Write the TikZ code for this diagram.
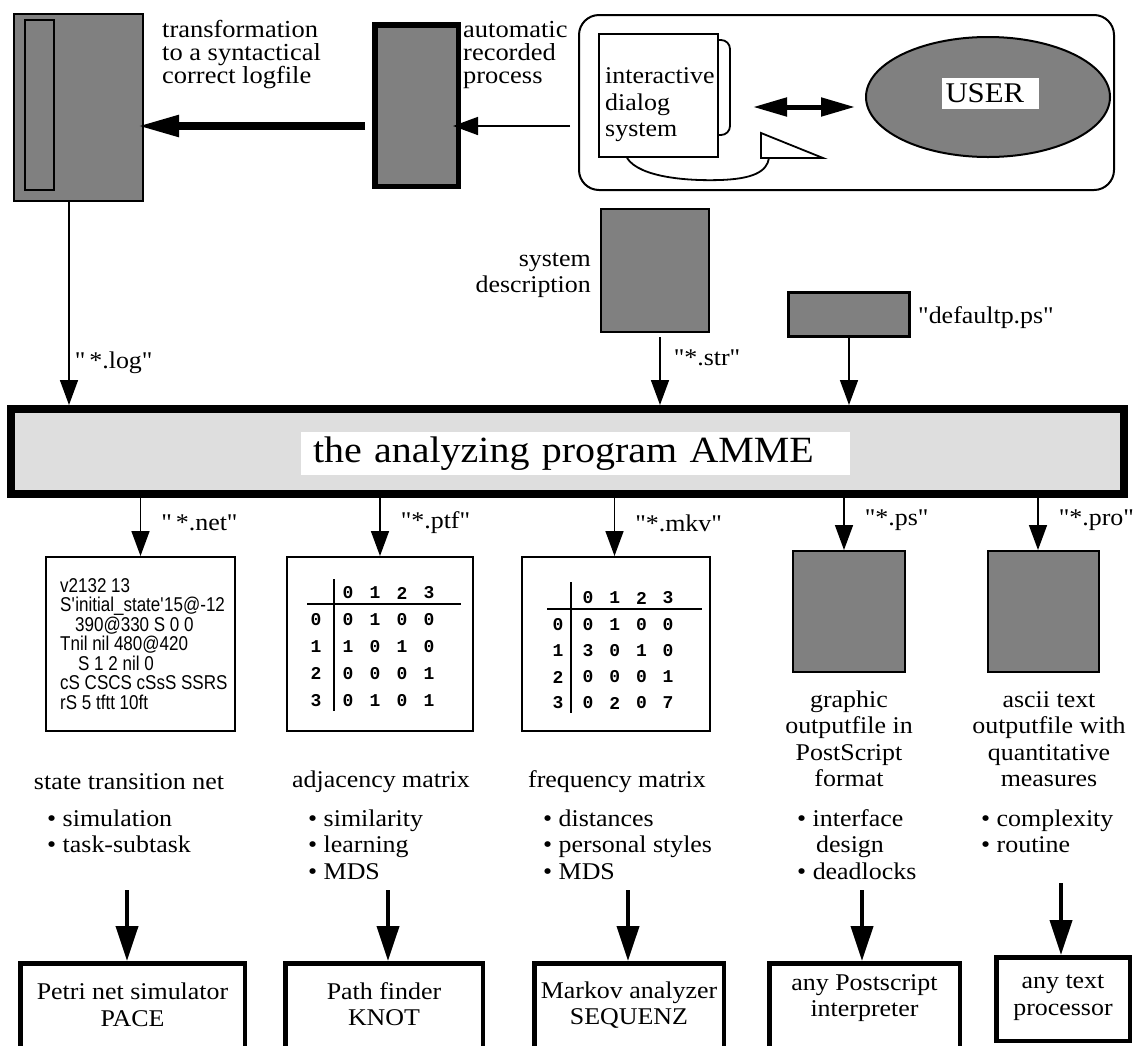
\documentclass[tikz,border=0pt]{standalone}
\usepackage{fontspec}
\newfontfamily\pfont{Liberation Serif}[FakeStretch=1.08]
\newfontfamily\netfont{Liberation Sans}[FakeStretch=0.85]
\newfontfamily\digitfont{Liberation Mono}
\usetikzlibrary{positioning, arrows.meta, calc, shapes.geometric}
\definecolor{filegray}{gray}{0.5}
\definecolor{panelgray}{gray}{0.87}
\newcommand{\fsz}[2]{\pfont\fontsize{#1}{#2}\selectfont}
\tikzset{
  filebox/.style={draw, line width=2pt, fill=filegray, inner sep=0pt},
  fatbox/.style={draw, line width=5.5pt, fill=filegray, inner sep=0pt},
  sheet/.style={draw, line width=2pt, fill=white, inner sep=0pt},
  toolbox/.style={draw, line width=4.5pt, inner sep=0pt},
  txt/.style={inner sep=0pt, font=\fsz{24}{26.5}},
  digit/.style={inner sep=0pt, font=\digitfont\bfseries\fontsize{18}{18}\selectfont},
  flow/.style={-{Triangle[length=25pt,width=18pt]}, line width=1.6pt},
  fatflow/.style={-{Triangle[length=42pt,width=20pt]}, line width=8pt},
  toolflow/.style={-{Triangle[length=35pt,width=22pt]}, line width=4pt},
  both/.style={{Triangle[length=34pt,width=18pt]}-{Triangle[length=34pt,width=18pt]}, line width=5pt},
}

\begin{document}
\begin{tikzpicture}[x=1pt, y=-1pt]
  \useasboundingbox (0,0) rectangle (1138,1045);

  \node[filebox, minimum width=129pt, minimum height=187pt] (logbox) at (78.5,107.5) {};
  \node[filebox, minimum width=29pt, minimum height=170pt] (logstrip) at (39.5,105) {};
  \node[fatbox, minimum width=83.5pt, minimum height=161.5pt] (recbox) at (416.5,105.5) {};
  \node[draw, line width=2pt, rounded corners=20pt, minimum width=535pt,
        minimum height=175pt] (env) at (846.5,102.5) {};

  \node[sheet, minimum width=119pt, minimum height=123pt] (dlg) at (658.5,95.5) {};
  \draw[line width=1.8pt, rounded corners=9pt]
    ([yshift=-7pt]dlg.north east) -- ++(11,0) -- ++(0,95) -- ++(-11,0);
  \draw[line width=1.8pt, fill=white] (761,133) -- (823,158) -- (761,158) -- cycle;
  \draw[line width=1.8pt] ([xshift=29pt]dlg.south west)
    .. controls (640,178) and (690,181) .. (720,180)
    .. controls (752,179) and (767,172) .. (769,158);
  \node[txt, align=left, anchor=west] (dlgtext) at (605,105) {interactive\\dialog\\system};

  \node[draw, ellipse, line width=2pt, fill=filegray, minimum width=244pt,
        minimum height=120pt] (user) at (988,97) {};
  \node[fill=white, inner xsep=4pt, inner ysep=0pt, minimum height=31pt, text width=89pt,
        align=left, font=\fsz{28.5}{30}] (userlbl) at (990,93.5) {USER};
  \draw[both] ([xshift=34pt,yshift=-11.5pt]dlg.east) -- ([xshift=-10pt,yshift=-10pt]user.west);

  \node[txt, align=left, anchor=west, font=\fsz{24.5}{23}] (transtext) at (162,55)
    {transformation\\to a syntactical\\correct logfile};
  \node[txt, align=left, anchor=west, font=\fsz{24.5}{23}] (autotext) at (463,55)
    {automatic\\recorded\\process};

  \draw[fatflow] ([xshift=-7pt,yshift=-20.5pt]recbox.west)
    -- ([xshift=-7pt,yshift=-20.5pt]recbox.west -| logbox.east);
  \draw[flow] ([xshift=-8pt,yshift=-23.5pt]env.west)
    -- ([xshift=-8pt,yshift=-23.5pt]env.west -| recbox.east);

  \node[filebox, minimum width=108pt, minimum height=123pt] (sysbox) at (655,270.5) {};
  \node[txt, align=right, left=9pt of sysbox, yshift=-5pt] (systext) {system\\description};
  \node[filebox, line width=3pt, minimum width=121pt, minimum height=44pt] (defbox) at (849,314.5) {};
  \node[txt, right=7pt of defbox, yshift=-3pt] (deftext) {"defaultp.ps"};

  \node[draw, line width=8pt, fill=panelgray, minimum width=1113pt, minimum height=85pt,
        inner sep=0pt] (amme) at (567.5,451.5) {};
  \node[fill=white, inner xsep=12pt, inner ysep=0pt, minimum height=43pt, text width=525pt,
        align=left, font=\fsz{37}{40}] (ammetext) at (575.5,453.5) {the analyzing program AMME};

  \coordinate (logout) at ([xshift=-9.5pt]logbox.south);
  \draw[flow] (logout) -- (logout |- amme.north) node[txt, pos=0.79, right=5pt] (loglbl) {"\,*.log"};
  \coordinate (strout) at ([xshift=5pt,yshift=-4pt]sysbox.south);
  \draw[flow] (strout) -- (strout |- amme.north) node[txt, pos=0.31, right=13pt] (strlbl) {"*.str"};
  \draw[flow] (defbox.south) -- (defbox.south |- amme.north);

  \node[sheet, minimum width=189pt, minimum height=174pt] (net) at (140.5,644) {};
  \node[sheet, minimum width=186pt, minimum height=174pt] (adj) at (380,644) {};
  \node[sheet, minimum width=188pt, minimum height=174pt] (frq) at (616,644) {};
  \node[filebox, minimum width=112pt, minimum height=121pt] (ps) at (849,611.5) {};
  \node[filebox, minimum width=111pt, minimum height=121pt] (pro) at (1043.5,611.5) {};

  \foreach \f/\dx/\lbl in {net/0/{"\,*.net"}, adj/0/{"*.ptf"}, frq/-1.5/{"*.mkv"},
                           ps/-5/{"*.ps"}, pro/-5.5/{"*.pro"}}
    \draw[flow] ([xshift=\dx pt]amme.south -| \f.north) -- ([xshift=\dx pt]\f.north)
      node[txt, pos=0.43, right=20pt] (\f-lbl) {\lbl};

  \node[anchor=west, align=left, inner sep=0pt, font=\netfont\fontsize{20}{19.5}\selectfont]
    (nettext) at ([xshift=15pt]net.west) {%
    v2132 13\\
    S\textquotesingle{}initial\_state\textquotesingle{}15@-12\\
    \hspace*{15pt}390@330 S 0 0\\
    Tnil nil 480@420\\
    \hspace*{18pt}S 1 2 nil 0\\
    cS CSCS cSsS SSRS\\
    rS 5 tftt 10ft};

  \begin{scope}[shift={(adj.north west)}]
    \draw[line width=1.5pt] (48,23) -- (48,155);
    \draw[line width=1.5pt] (21,48) -- (175,48);
    \foreach \c in {0,...,3}
      \node[digit] (adj-h\c) at (62+27*\c,37) {\c};
    \foreach \r/\row in {0/{0,1,0,0},1/{1,0,1,0},2/{0,0,0,1},3/{0,1,0,1}} {
      \node[digit] (adj-r\r) at (30,64+26.7*\r) {\r};
      \foreach \v [count=\c from 0] in \row
        \node[digit] (adj-\r-\c) at (62+27*\c,64+26.7*\r) {\v};
    }
  \end{scope}

  \begin{scope}[shift={(frq.north west)}]
    \draw[line width=1.5pt] (50,26) -- (50,157);
    \draw[line width=1.5pt] (26,53) -- (181,53);
    \foreach \c in {0,...,3}
      \node[digit] (frq-h\c) at (67+26.7*\c,42) {\c};
    \foreach \r/\row in {0/{0,1,0,0},1/{3,0,1,0},2/{0,0,0,1},3/{0,2,0,7}} {
      \node[digit] (frq-r\r) at (37,69+26*\r) {\r};
      \foreach \v [count=\c from 0] in \row
        \node[digit] (frq-\r-\c) at (67+26.7*\c,69+26*\r) {\v};
    }
  \end{scope}

  \node[txt] (nettitle) at (129,782) {state transition net};
  \node[txt] (adjtitle) at (381,782) {adjacency matrix};
  \node[txt] (frqtitle) at (617,782) {frequency matrix};
  \node[txt, align=center] (psdesc) at (849,739) {graphic\\outputfile in\\PostScript\\format};
  \node[txt, align=center] (prodesc) at (1049,739) {ascii text\\outputfile with\\quantitative\\measures};

  \node[txt, align=left, anchor=west] (netuse) at (47,831.5) {• simulation\\• task-subtask};
  \node[txt, align=left, anchor=west] (adjuse) at (308,844.5) {• similarity\\• learning\\• MDS};
  \node[txt, align=left, anchor=west] (frquse) at (543,844.5) {• distances\\• personal styles\\• MDS};
  \node[txt, align=left, anchor=west] (psuse) at (797,844.5) {• interface\\\hspace*{19pt}design\\• deadlocks};
  \node[txt, align=left, anchor=west] (prouse) at (981,831.5) {• complexity\\• routine};

  \node[toolbox, minimum width=224.5pt, minimum height=85.5pt] (b1) at (132.5,1006) {};
  \node[toolbox, minimum width=197.5pt, minimum height=85.5pt] (b2) at (384,1006) {};
  \node[toolbox, minimum width=189.5pt, minimum height=85.5pt] (b3) at (629,1006) {};
  \node[toolbox, minimum width=190.5pt, minimum height=85.5pt] (b4) at (864.5,1006) {};
  \node[toolbox, minimum width=133.5pt, minimum height=83.5pt] (b5) at (1063,999) {};

  \node[txt, align=center] (t1) at (132.5,1005) {Petri net simulator\\PACE};
  \node[txt, align=center] (t2) at (384,1004) {Path finder\\KNOT};
  \node[txt, align=center] (t3) at (629,1005) {Markov analyzer\\SEQUENZ};
  \node[txt, align=center] (t4) at (864.5,998) {any Postscript\\interpreter};
  \node[txt, align=center] (t5) at (1063,998) {any text\\processor};

  \foreach \i/\x/\y in {1/127/890, 2/388/890, 3/628/890, 4/862/890, 5/1061/883} {
    \coordinate (a\i) at (\x,\y);
    \draw[toolflow] (a\i) -- (a\i |- b\i.north);
  }
\end{tikzpicture}
\end{document}
